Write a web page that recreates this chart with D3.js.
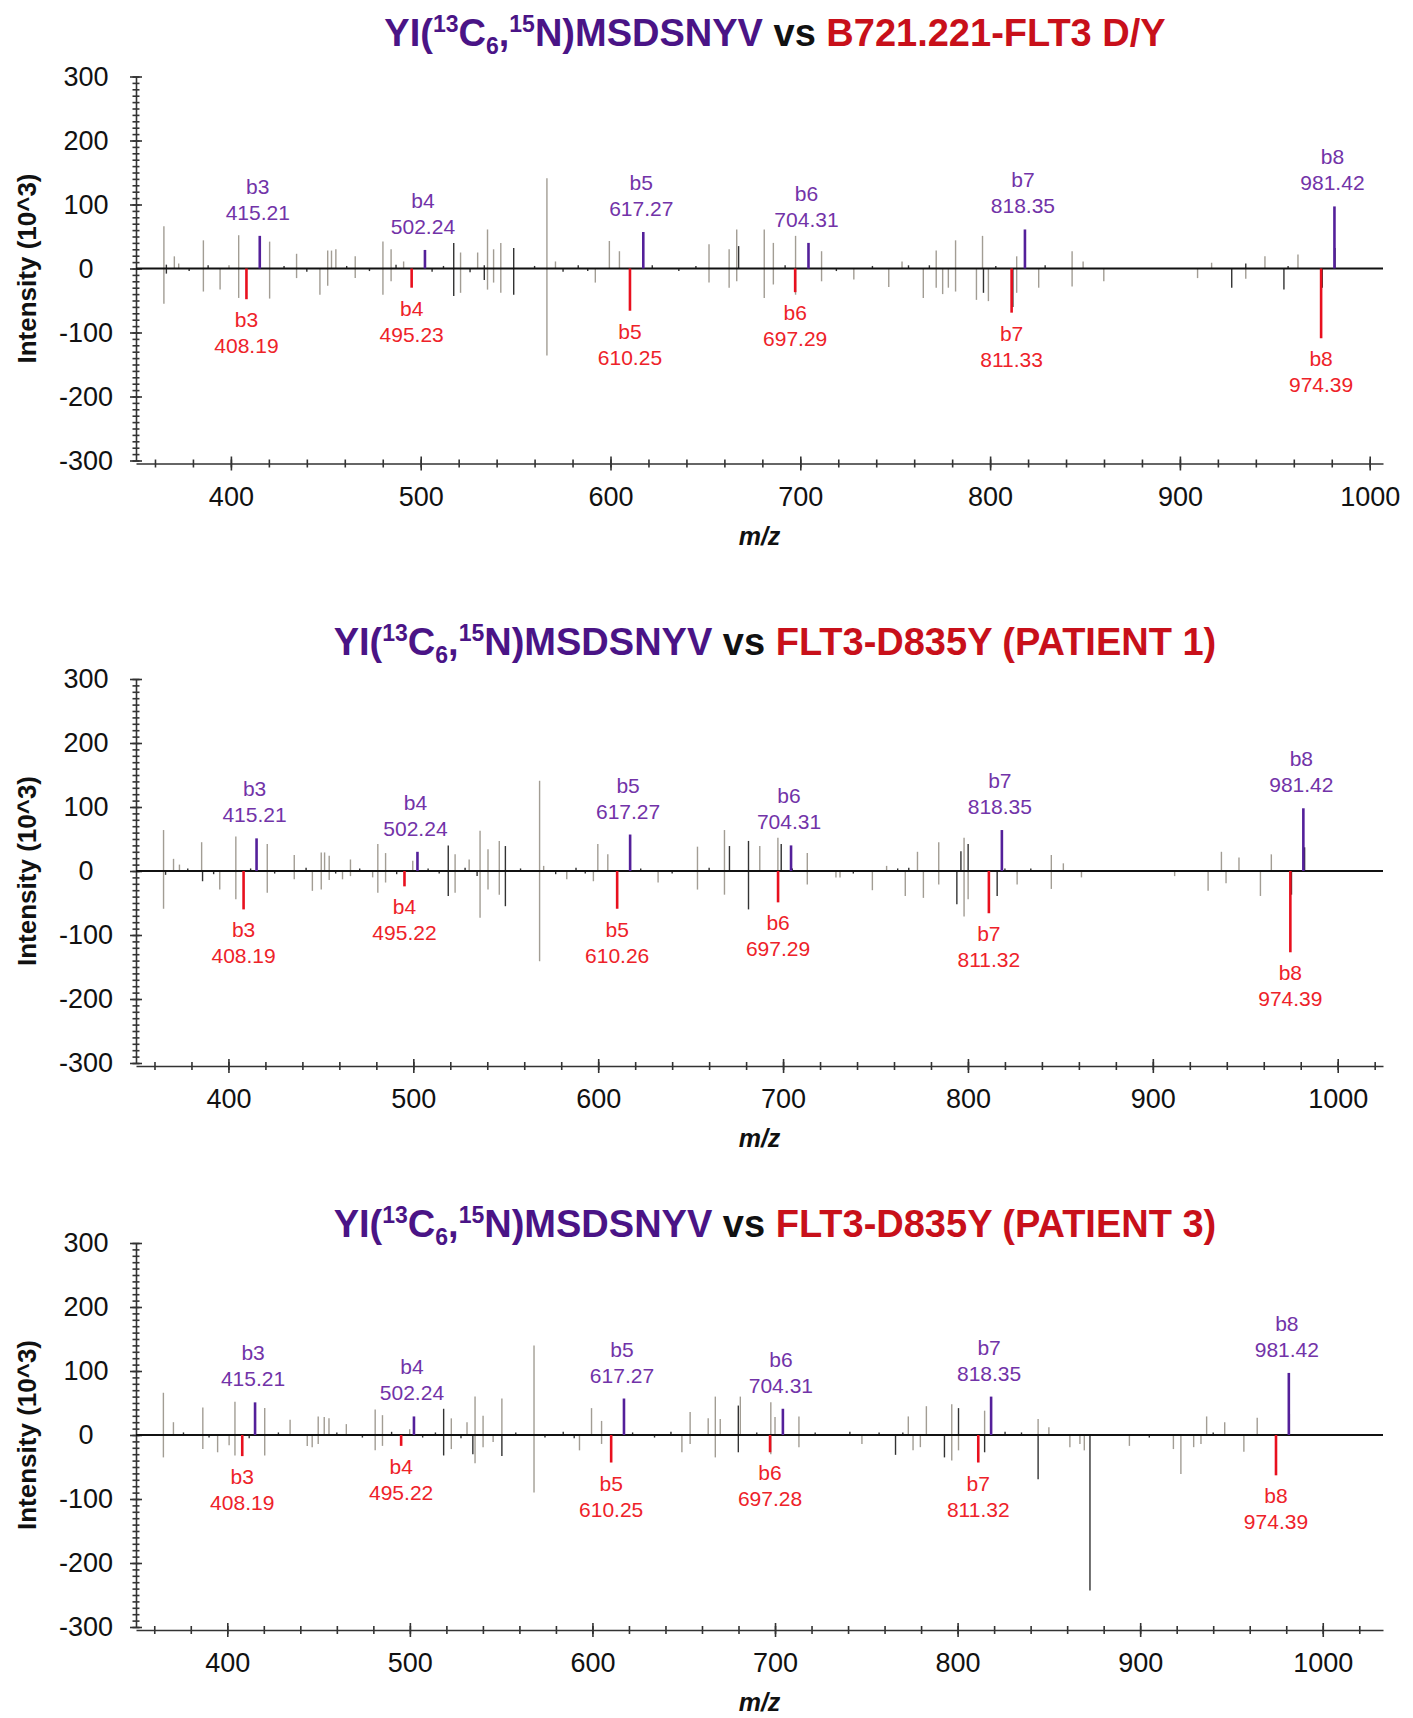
<!DOCTYPE html>
<html>
<head>
<meta charset="utf-8">
<script src="https://cdn.jsdelivr.net/npm/d3@7"></script>
<style>
  body { margin: 0; background: #fff; }
  svg { font-family: "Liberation Sans", Arial, sans-serif; }
  .axis path, .axis line { stroke: #333; stroke-width: 1.6; }
  .axis text { font-size: 27px; fill: #111; font-family: "Liberation Sans", Arial, sans-serif; }
</style>
</head>
<body>
<div id="chart"></div>
<script>
// shared between the three spectra
const ionNames = ["b3", "b4", "b5", "b6", "b7", "b8"];
const heavyMz = [415.21, 502.24, 617.27, 704.31, 818.35, 981.42];
const sampleNames = ["B721.221-FLT3 D/Y", "FLT3-D835Y (PATIENT 1)", "FLT3-D835Y (PATIENT 3)"];
const yTicks = [-300, -200, -100, 0, 100, 200, 300];
const xTicks = [400, 500, 600, 700, 800, 900, 1000];

// panel 1: B721.221-FLT3 D/Y
const p1HeavyInt = [51, 29, 57, 40, 61, 97];
const p1LightMz = [408.19, 495.23, 610.25, 697.29, 811.33, 974.39];
const p1LightInt = [-48, -30, -66, -37, -69, -109];
const p1Gray = [
  [364.7, 66], [370.2, 19], [372.5, 8], [385.5, 44], [399, 5], [404.1, 52], [420.4, 42], [434.6, 23],
  [451, 28], [453, 28], [455.3, 30], [465.5, 19], [480.1, 42], [484.4, 30], [491, 11], [521, 25],
  [530, 25], [535.2, 61], [538.4, 30], [542.2, 40], [566.5, 141], [571, 11], [599.4, 43], [604.7, 27],
  [651.9, 38], [662.5, 30], [666.5, 61], [681, 61], [685.8, 40], [697.5, 51], [711.2, 27], [753.6, 11],
  [771.6, 28], [781.8, 44], [796, 51], [814, 19], [843.2, 27], [849, 11], [916.7, 9], [944.8, 19], [962.2, 22],
  [364.7, -55], [385.5, -36], [394.3, -33], [404.1, -46], [420.4, -47], [434.6, -15], [446.9, -41], [451, -27],
  [465.5, -15], [480.1, -41], [484.4, -20], [521, -38], [535.2, -33], [538.4, -22], [542.2, -38], [566.5, -136],
  [592, -22], [651.9, -22], [662.5, -30], [666.5, -20], [681, -46], [685.8, -25], [697.5, -41], [711.2, -20],
  [728.2, -17], [746.6, -29], [764.8, -46], [771.6, -30], [775, -40], [778, -30], [781.8, -36], [792.8, -49],
  [799.1, -51], [814, -38], [825.6, -30], [843.2, -28], [859.9, -20], [909.3, -15], [934.7, -16]
];
const p1Dark = [
  [366, 6], [366, -8], [517.4, 40], [517.4, -43], [533.5, 5], [533.5, -18], [549, 32], [549, -41],
  [667.5, 35], [796.5, -38], [812, -60], [927.3, -30], [934.7, 8], [954.8, -33], [975, -30], [981.7, 32],
  [378, -4], [388, 5], [428, 4], [440, -5], [461, 4], [473, -4], [487, 6], [506, -5], [512, 4], [526, -6],
  [560, 4], [575, -5], [583, 5], [588, -4], [622, 5], [636, -4], [645, 4], [692, 5], [719, -4], [738, 4],
  [757, 5], [768, 5], [803, 4], [829, 5], [957, 4]
];

// panel 2: FLT3-D835Y (PATIENT 1)
const p2HeavyInt = [51, 30, 57, 40, 64, 98];
const p2LightMz = [408.19, 495.22, 610.26, 697.29, 811.32, 974.39];
const p2LightInt = [-60, -24, -59, -49, -66, -127];
const p2Gray = [
  [364.9, 64], [370.3, 19], [373.5, 10], [385.5, 45], [404, 54], [421, 42], [435.6, 25], [450.2, 29],
  [452, 29], [454.5, 24], [466, 18], [480.8, 42], [485, 28], [499.7, 16], [522.6, 26], [530.2, 18],
  [536.1, 63], [540.4, 34], [546.5, 47], [568.3, 141], [570.5, 8], [599.8, 42], [605.2, 26], [653.7, 38],
  [668.3, 64], [687.4, 39], [697.2, 52], [713.1, 28], [756, 8], [772.7, 30], [784.2, 45], [797.9, 52],
  [845.1, 25], [851.6, 12], [937.1, 30], [946.6, 21], [964.1, 26],
  [364.9, -59], [395.3, -29], [404, -44], [421, -34], [435.6, -13], [445.4, -31], [450.2, -29], [454.5, -14],
  [461.7, -13], [466, -8], [478, -10], [480.8, -34], [485, -18], [522.6, -34], [536.1, -73], [540.4, -29],
  [546.5, -37], [568.3, -141], [583, -13], [597.4, -16], [632.4, -18], [653.7, -29], [668.3, -37], [697.2, -44],
  [713.1, -21], [728.6, -10], [730.8, -10], [748.3, -30], [766.1, -39], [775.9, -42], [784.2, -21], [797.9, -71],
  [800.1, -44], [826.6, -21], [845.1, -28], [861.4, -10], [911.8, -8], [929.9, -31], [939.6, -19], [958.2, -39]
];
const p2Dark = [
  [366, -6], [386, -16], [518.9, 40], [518.9, -39], [534.5, -8], [549.8, 39], [549.8, -55], [671, 39],
  [681.3, 47], [681.3, -60], [699, 42], [794, -52], [796.2, 31], [800.1, 42], [815.8, -39], [975, -37], [982.1, 37],
  [378, 4], [392, -5], [412, 4], [425, -4], [442, 5], [458, -4], [471, 4], [491, -5], [508, 4], [514, -4],
  [528, 5], [558, 4], [577, -5], [588, 5], [593, -4], [623, 4], [640, -4], [660, 5], [705, 4], [738, -4],
  [762, 4], [768, 5], [820, 4], [834, 4]
];

// panel 3: FLT3-D835Y (PATIENT 3)
const p3HeavyInt = [51, 29, 57, 41, 60, 97];
const p3LightMz = [408.19, 495.22, 610.25, 697.28, 811.32, 974.39];
const p3LightInt = [-33, -17, -43, -27, -43, -63];
const p3Gray = [
  [365, 66], [370.5, 20], [386.6, 43], [404.2, 52], [420.5, 42], [434.4, 24], [449.8, 29], [453.1, 28],
  [455.7, 26], [465.2, 17], [481, 40], [485, 31], [499.9, 9], [522.7, 26], [531.3, 20], [535.7, 60],
  [540.1, 30], [550.4, 57], [568, 140], [599.5, 42], [605, 22], [653.5, 36], [663.4, 26], [667.3, 60],
  [670, 25], [681, 60], [697.7, 51], [700, 28], [713.1, 29], [773, 29], [782.9, 45], [796.8, 48],
  [814.8, 38], [844.1, 25], [850, 12], [936.4, 29], [946.3, 20], [964.1, 27],
  [365, -35], [386.6, -22], [394.7, -27], [401, -16], [404.2, -32], [420.5, -32], [443.8, -17], [446.5, -19],
  [449.8, -14], [481, -24], [485, -17], [522.7, -22], [535.7, -44], [540.1, -19], [545.6, -11], [568, -90],
  [592.9, -24], [605, -14], [649, -27], [653.5, -14], [667.3, -35], [697.7, -30], [713.1, -19], [747.6, -14],
  [775.6, -24], [779.6, -19], [796.8, -40], [800.5, -24], [861.5, -19], [867, -14], [869.4, -24], [894.1, -17],
  [918.2, -22], [922.3, -61], [929.3, -19], [933.3, -14], [956.8, -26]
];
const p3Dark = [
  [518.5, 41], [518.5, -32], [534.5, -30], [550.4, -33], [679.9, 46], [679.9, -27], [766, -31], [792.8, -35],
  [800.5, 42], [814.8, -27], [844.1, -69], [872.5, -243], [981.7, 33],
  [376, 4], [390, -4], [412, -5], [428, 4], [460, 4], [474, -4], [490, 5], [507, -4], [514, 4], [528, -5],
  [558, 4], [574, -4], [584, 5], [590, -5], [622, 4], [634, -4], [643, 5], [690, 4], [722, 4], [741, 5],
  [757, 4], [770, 4], [826, 5], [835, 4], [905, -4], [940, 4]
];

const panels = [
  { sample: sampleNames[0], heavyInt: p1HeavyInt, lightMz: p1LightMz, lightInt: p1LightInt, gray: p1Gray, dark: p1Dark,
    top: 76.5, titleY: 45.5, mzMax: 1007 },
  { sample: sampleNames[1], heavyInt: p2HeavyInt, lightMz: p2LightMz, lightInt: p2LightInt, gray: p2Gray, dark: p2Dark,
    top: 679, titleY: 654.5, mzMax: 1024.5 },
  { sample: sampleNames[2], heavyInt: p3HeavyInt, lightMz: p3LightMz, lightInt: p3LightInt, gray: p3Gray, dark: p3Dark,
    top: 1243, titleY: 1237, mzMax: 1033 }
];

const W = 1413, H = 1718;
const left = 136, right = 1383, plotH = 384;
const purpleTitle = "#4a1486", redTitle = "#c8101a";
const purpleLine = "#54209a", purpleText = "#7233a8";
const redLine = "#e8101e", redText = "#ee2229";

const svg = d3.select("#chart").append("svg")
    .attr("width", W)
    .attr("height", H);

panels.forEach(p => drawPanel(p));

function drawPanel(p) {
    const g = svg.append("g");
    const x = d3.scaleLinear().domain([350, p.mzMax]).range([left, right]);
    const y = d3.scaleLinear().domain([-300, 300]).range([p.top + plotH, p.top]);
    const axisY = p.top + plotH + 3;

    // title with isotope labels
    const t = g.append("text")
        .attr("x", 775)
        .attr("y", p.titleY)
        .attr("text-anchor", "middle")
        .style("font-size", "38px")
        .style("font-weight", "bold")
        .attr("fill", purpleTitle);
    t.append("tspan").text("YI(");
    t.append("tspan").attr("dy", -14).style("font-size", "23px").text("13");
    t.append("tspan").attr("dy", 14).text("C");
    t.append("tspan").attr("dy", 8).style("font-size", "23px").text("6");
    t.append("tspan").attr("dy", -8).text(",");
    t.append("tspan").attr("dy", -14).style("font-size", "23px").text("15");
    t.append("tspan").attr("dy", 14).text("N)MSDSNYV");
    t.append("tspan").attr("fill", "#111").text(" vs ");
    t.append("tspan").attr("fill", redTitle).text(p.sample);

    // y axis, major + minor ticks crossing the line
    const yMajor = g.append("g").attr("class", "axis")
        .attr("transform", `translate(${left},0)`)
        .call(d3.axisLeft(y).tickValues(yTicks).tickSize(6).tickSizeOuter(0).tickFormat(d => String(d)));
    yMajor.selectAll(".tick line").attr("x1", 6);
    yMajor.selectAll(".tick text").attr("x", -50).attr("text-anchor", "middle");
    const yMinor = g.append("g").attr("class", "axis")
        .attr("transform", `translate(${left},0)`)
        .call(d3.axisLeft(y).tickValues(d3.range(-300, 301, 10)).tickSize(3.5).tickFormat(""));
    yMinor.select(".domain").remove();
    yMinor.selectAll(".tick line").attr("x1", 3.5);

    // x axis
    const xMajor = g.append("g").attr("class", "axis")
        .attr("transform", `translate(0,${axisY})`)
        .call(d3.axisBottom(x).tickValues(xTicks).tickSize(7).tickSizeOuter(0).tickPadding(16).tickFormat(d => String(d)));
    xMajor.selectAll(".tick line").attr("y1", -7);
    const xMinor = g.append("g").attr("class", "axis")
        .attr("transform", `translate(0,${axisY})`)
        .call(d3.axisBottom(x).tickValues(d3.range(360, p.mzMax, 20)).tickSize(4).tickFormat(""));
    xMinor.select(".domain").remove();
    xMinor.selectAll(".tick line").attr("y1", -4);

    g.append("text")
        .attr("transform", `translate(27,${y(0)}) rotate(-90)`)
        .attr("text-anchor", "middle")
        .attr("dy", "0.35em")
        .style("font-size", "26px")
        .style("font-weight", "bold")
        .attr("fill", "#111")
        .text("Intensity (10^3)");

    g.append("text")
        .attr("x", (left + right) / 2)
        .attr("y", axisY + 81)
        .attr("text-anchor", "middle")
        .style("font-size", "25px")
        .style("font-weight", "bold")
        .style("font-style", "italic")
        .attr("fill", "#111")
        .text("m/z");

    // unannotated peaks
    g.append("g").selectAll("line")
        .data(p.gray)
        .join("line")
        .attr("x1", d => x(d[0])).attr("x2", d => x(d[0]))
        .attr("y1", y(0)).attr("y2", d => y(d[1]))
        .attr("stroke", "#a29d94")
        .attr("stroke-width", 1.4);
    g.append("g").selectAll("line")
        .data(p.dark)
        .join("line")
        .attr("x1", d => x(d[0])).attr("x2", d => x(d[0]))
        .attr("y1", y(0)).attr("y2", d => y(d[1]))
        .attr("stroke", "#333")
        .attr("stroke-width", 1.4);

    g.append("line")
        .attr("x1", left).attr("x2", right)
        .attr("y1", y(0)).attr("y2", y(0))
        .attr("stroke", "#111")
        .attr("stroke-width", 1.8);

    // b-ions: heavy standard up (purple), sample down (red)
    const heavy = ionNames.map((n, i) => ({ name: n, mz: heavyMz[i], v: p.heavyInt[i] }));
    const light = ionNames.map((n, i) => ({ name: n, mz: p.lightMz[i], v: p.lightInt[i] }));

    g.append("g").selectAll("line")
        .data(heavy)
        .join("line")
        .attr("x1", d => x(d.mz)).attr("x2", d => x(d.mz))
        .attr("y1", y(0)).attr("y2", d => y(d.v))
        .attr("stroke", purpleLine)
        .attr("stroke-width", 2.6);
    g.append("g").selectAll("line")
        .data(light)
        .join("line")
        .attr("x1", d => x(d.mz)).attr("x2", d => x(d.mz))
        .attr("y1", y(0)).attr("y2", d => y(d.v))
        .attr("stroke", redLine)
        .attr("stroke-width", 2.6);

    const hl = g.append("g").selectAll("text")
        .data(heavy)
        .join("text")
        .attr("text-anchor", "middle")
        .attr("fill", purpleText)
        .style("font-size", "21px");
    hl.append("tspan").attr("x", d => x(d.mz) - 2).attr("y", d => y(d.v) - 42).text(d => d.name);
    hl.append("tspan").attr("x", d => x(d.mz) - 2).attr("y", d => y(d.v) - 16).text(d => d.mz.toFixed(2));

    const ll = g.append("g").selectAll("text")
        .data(light)
        .join("text")
        .attr("text-anchor", "middle")
        .attr("fill", redText)
        .style("font-size", "21px");
    ll.append("tspan").attr("x", d => x(d.mz)).attr("y", d => y(d.v) + 28).text(d => d.name);
    ll.append("tspan").attr("x", d => x(d.mz)).attr("y", d => y(d.v) + 54).text(d => d.mz.toFixed(2));
}
</script>
</body>
</html>
